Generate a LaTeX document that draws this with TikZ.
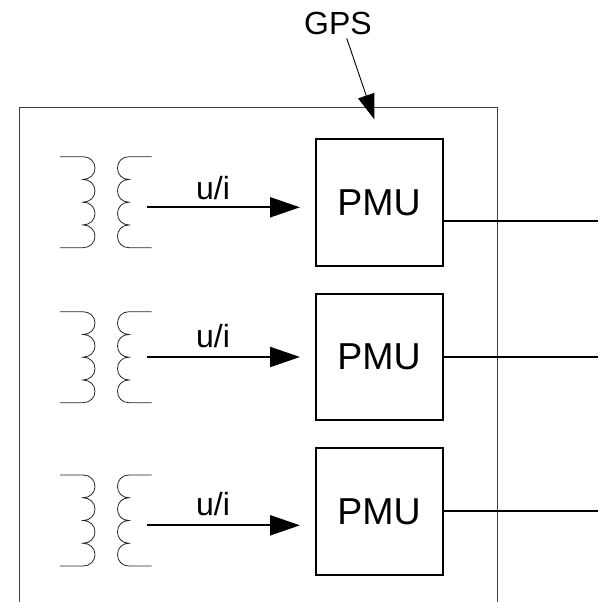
\documentclass[tikz,border=0pt]{standalone}
\usepackage{fontspec}
\setmainfont{Liberation Sans}
\usetikzlibrary{arrows.meta}
\tikzset{
  pmubox/.style={draw=black,line width=2pt,minimum width=127pt,minimum height=126.5pt,inner sep=0pt,font=\fontsize{37.5}{40}\selectfont},
  signal/.style={line width=2.2pt,-{Triangle[length=30pt,width=20pt]},shorten >=14.5pt},
  outline/.style={line width=1pt,draw=black!75},
  winding/.style={line width=0.8pt,draw=black!85},
  output/.style={line width=2pt},
  gpsarrow/.style={line width=0.9pt,-{Triangle[length=25pt,width=17pt]}},
  lbl/.style={font=\fontsize{32}{34}\selectfont,inner sep=0pt,anchor=base}
}
\newcommand{\coilpair}[1]{%
  \draw[winding] (60,#1) -- (83,#1)
    \foreach \k in {0,1,2,3}{
      .. controls (90,{#1+\k*22.75}) and (95,{#1+\k*22.75+5}) .. (95,{#1+\k*22.75+11.4})
      .. controls (95,{#1+\k*22.75+17.7}) and (90,{#1+\k*22.75+22.75}) .. (83,{#1+\k*22.75+22.75})
    } -- (60,{#1+91});
  \draw[winding] (151.7,#1) -- (129,#1)
    \foreach \k in {0,1,2,3}{
      .. controls (122,{#1+\k*22.75}) and (117.5,{#1+\k*22.75+5}) .. (117.5,{#1+\k*22.75+11.4})
      .. controls (117.5,{#1+\k*22.75+17.7}) and (122,{#1+\k*22.75+22.75}) .. (129,{#1+\k*22.75+22.75})
    } -- (151.7,{#1+91});
}
\begin{document}
\begin{tikzpicture}[x=1pt,y=-1pt]
\useasboundingbox (0,0) rectangle (598,602);
% frame
\draw[outline] (19.7,602) -- (19.7,107.3) -- (497.3,107.3) -- (497.3,602);
% PMU boxes
\node[pmubox] (p1) at (379,202.5) {PMU};
\node[pmubox] (p2) at (379,357) {PMU};
\node[pmubox] (p3) at (379,511.7) {PMU};
% transformers
\coilpair{156.7}
\coilpair{311.7}
\coilpair{475}
% signals
\coordinate (s1) at (146.5,207.3);
\coordinate (s2) at (146.5,357);
\coordinate (s3) at (146.5,525.3);
\draw[signal] (s1) -- (s1 -| p1.west);
\draw[signal] (s2) -- (s2 -| p2.west);
\draw[signal] (s3) -- (s3 -| p3.west);
\node[lbl] (u1) at (213,199) {u/i};
\node[lbl] (u2) at (213,347.3) {u/i};
\node[lbl] (u3) at (213,515) {u/i};
% outputs
\coordinate (o1) at (598,220.7);
\coordinate (o2) at (598,357);
\coordinate (o3) at (598,511.3);
\draw[output] (o1 -| p1.east) -- (o1);
\draw[output] (o2 -| p2.east) -- (o2);
\draw[output] (o3 -| p3.east) -- (o3);
% GPS
\node[lbl] (gps) at (338,34.3) {GPS};
\coordinate (gs) at (346.7,38.3);
\coordinate (ge) at (374.3,119.3);
\draw[gpsarrow] (gs) -- (ge);
\end{tikzpicture}
\end{document}
